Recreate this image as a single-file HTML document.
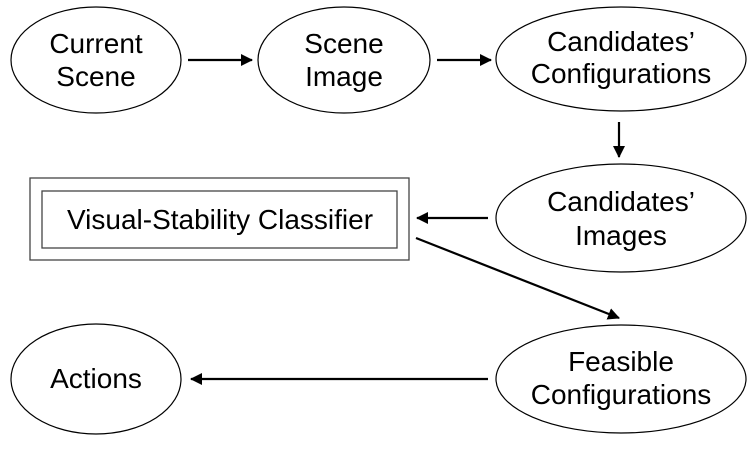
<!DOCTYPE html>
<html><head><meta charset="utf-8"><style>html,body{margin:0;padding:0;background:#fff}</style></head>
<body>
<svg width="748" height="444" viewBox="0 0 748 444" xmlns="http://www.w3.org/2000/svg" font-family="Liberation Sans, Arial, sans-serif" font-size="28" text-anchor="middle">
<defs><marker id="a" markerWidth="12" markerHeight="12" refX="11" refY="6" orient="auto" markerUnits="userSpaceOnUse"><path d="M0,0 L12,6 L0,12 Z" fill="#000"/></marker></defs>
<g fill="none" stroke="#000" stroke-width="1.2">
<ellipse cx="96" cy="60" rx="85" ry="53"/>
<ellipse cx="344" cy="60" rx="86" ry="53"/>
<ellipse cx="621" cy="59" rx="125" ry="52"/>
<ellipse cx="621" cy="218" rx="125" ry="54"/>
<ellipse cx="621" cy="379" rx="125" ry="54"/>
<ellipse cx="96" cy="379" rx="85" ry="55"/>
</g>
<rect x="30" y="178" width="379" height="82" fill="none" stroke="#444" stroke-width="1.3"/>
<rect x="42" y="191" width="355" height="57" fill="none" stroke="#444" stroke-width="1.3"/>
<g stroke="#000" stroke-width="2.2" marker-end="url(#a)">
<line x1="188" y1="60" x2="252" y2="60"/>
<line x1="437" y1="60" x2="491" y2="60"/>
<line x1="619" y1="122" x2="619" y2="157"/>
<line x1="488" y1="218" x2="417" y2="218"/>
<line x1="416" y1="238" x2="619" y2="318"/>
<line x1="488" y1="379" x2="191" y2="379"/>
</g>
<g fill="#000">
<text x="96" y="53">Current</text><text x="96" y="86">Scene</text>
<text x="344" y="53">Scene</text><text x="344" y="86">Image</text>
<text x="621" y="51">Candidates’</text><text x="621" y="83">Configurations</text>
<text x="621" y="211">Candidates’</text><text x="621" y="245">Images</text>
<text x="621" y="371">Feasible</text><text x="621" y="404">Configurations</text>
<text x="96" y="388">Actions</text>
<text x="220" y="229">Visual-Stability Classifier</text>
</g>
</svg>
</body></html>
